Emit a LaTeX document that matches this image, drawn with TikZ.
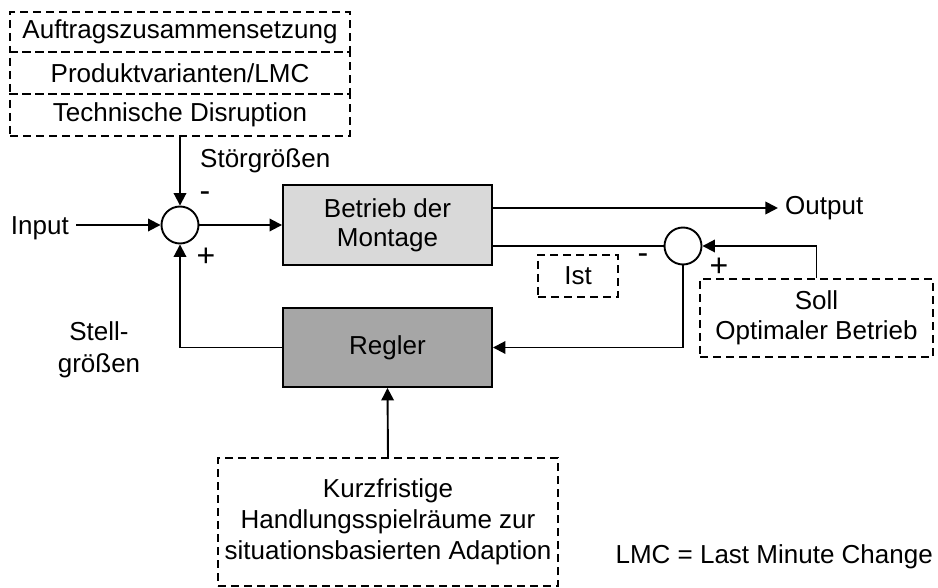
\documentclass[tikz,border=0pt]{standalone}
\usepackage{fontspec}
\setmainfont{Liberation Sans}
\usetikzlibrary{arrows.meta}
\definecolor{plantgray}{RGB}{217,217,217}
\definecolor{ctrlgray}{RGB}{166,166,166}
\begin{document}
\begin{tikzpicture}[x=1pt,y=-1pt,
  font=\fontsize{26}{30}\selectfont,
  wire/.style={line width=1.9pt},
  arr/.style={wire,-{Triangle[length=12.5pt,width=12.5pt]}},
  dbox/.style={draw,dash pattern=on 8pt off 5pt,line width=1.6pt,inner sep=0pt,align=center},
  block/.style={draw,line width=1.9pt,inner sep=0pt,align=center},
  junction/.style={circle,draw,line width=1.9pt,fill=white,minimum size=37pt,inner sep=0pt},
  lbl/.style={inner sep=0pt,align=center},
  sign/.style={inner sep=0pt,font=\fontsize{32}{32}\selectfont}]
\path[use as bounding box] (0,0) rectangle (938,588);

% disturbance sources
\node[dbox,minimum width=340pt,minimum height=40pt] (auf) at (180,32) {Auftragszusammensetzung};
\node[dbox,minimum width=340pt,minimum height=42pt] (prod) at (180,73) {Produktvarianten/LMC};
\node[dbox,minimum width=340pt,minimum height=42pt] (tech) at (180,115) {Technische Disruption};

% summing points
\node[junction] (s1) at (180,225) {};
\node[junction] (s2) at (683,246) {};

% plant and controller
\node[block,fill=plantgray,minimum width=209pt,minimum height=80pt,
      font=\fontsize{26}{29}\selectfont] (betr) at (387.5,225) {Betrieb der\\Montage};
\node[block,fill=ctrlgray,minimum width=209pt,minimum height=79pt] (reg) at (387.5,347.5) {Regler};

% reference, actual value, adaptation
\node[dbox,minimum width=233pt,minimum height=78pt] (soll) at (816.5,318) {Soll\\Optimaler Betrieb};
\node[dbox,minimum width=80pt,minimum height=42pt] (ist) at (578,276) {Ist};
\node[dbox,minimum width=340pt,minimum height=128pt,
      font=\fontsize{26}{31}\selectfont] (kurz) at (388,522) {Kurzfristige\\Handlungsspielräume zur\\situationsbasierten Adaption};

% signals
\node[lbl,anchor=east] (in) at (69,228) {Input};
\node[lbl,anchor=west] (out) at (785,208) {Output};
\node[lbl,anchor=west] (stoer) at (200,161) {Störgrößen};
\node[lbl,font=\fontsize{26}{32}\selectfont] (stell) at (99,350) {Stell-\\größen};
\node[sign] (m1) at (205,197) {-};
\node[sign] (p1) at (206,257) {+};
\node[sign] (m2) at (643,259) {-};
\node[sign] (p2) at (719,267) {+};
\node[lbl,anchor=east] (lmc) at (933,557) {LMC = Last Minute Change};

% connectors
\draw[arr] (tech.south) -- (s1.north);
\draw[arr] (in.east |- s1.west) ++(7pt,0) -- (s1.west);
\draw[arr] (s1.east) -- (betr.west);
\draw[arr] (betr.east |- out.west) -- ++(285pt,0);
\draw[wire] (betr.east |- s2.west) -- (s2.west);
\draw[arr] (soll.north) |- (s2.east);
\draw[arr] (s2.south) |- (reg.east);
\draw[arr] (reg.west) -| (s1.south);
\draw[arr] (kurz.north) -- (reg.south);
\end{tikzpicture}
\end{document}
